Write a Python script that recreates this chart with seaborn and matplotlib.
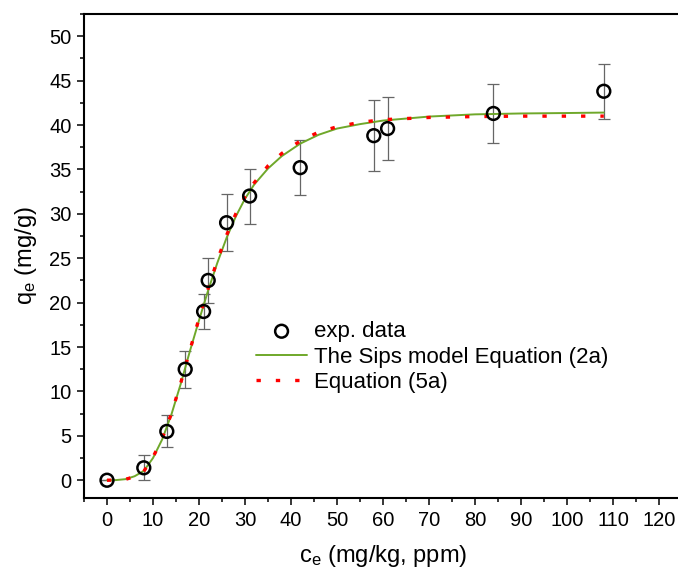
import numpy as np
import pandas as pd
import seaborn as sns
import matplotlib
matplotlib.use('Agg')
import matplotlib.pyplot as plt
from matplotlib.ticker import MultipleLocator

sns.set_style('ticks')
plt.rcParams['font.family'] = ['Liberation Sans', 'DejaVu Sans']
plt.rcParams['mathtext.fontset'] = 'custom'
plt.rcParams['mathtext.rm'] = 'Liberation Sans'
plt.rcParams['mathtext.it'] = 'Liberation Sans'
plt.rcParams['text.color'] = 'black'
plt.rcParams['axes.labelcolor'] = 'black'
plt.rcParams['xtick.color'] = 'black'
plt.rcParams['ytick.color'] = 'black'

# experimental data
ce = [0, 8, 13, 17, 21, 22, 26, 31, 42, 58, 61, 84, 108]
qe = [0, 1.4, 5.5, 12.5, 19.0, 22.5, 29.0, 32.0, 35.2, 38.8, 39.6, 41.3, 43.8]
qe_err = [0, 1.4, 1.8, 2.1, 2.0, 2.5, 3.2, 3.1, 3.1, 4.0, 3.5, 3.3, 3.1]

# Sips model curve
c_fit = [0, 2, 4, 6, 8, 10, 12, 14, 16, 18, 20, 22, 24, 26, 28, 30, 32, 35, 38, 42,
         46, 50, 55, 60, 70, 80, 90, 100, 108]
q_sips = [0, 0.02, 0.12, 0.45, 1.05, 2.5, 4.6, 7.4, 10.8, 14.5, 18.0, 21.4, 24.5, 27.3,
          29.7, 31.7, 33.3, 35.1, 36.5, 37.9, 38.9, 39.6, 40.1, 40.5, 40.95, 41.2, 41.3,
          41.35, 41.4]
# Equation (5a) curve
q_eq5a = [0, 0.02, 0.1, 0.4, 1.0, 2.6, 4.7, 7.5, 10.9, 14.6, 18.2, 21.6, 24.8, 27.6,
          30.0, 31.9, 33.5, 35.4, 36.8, 38.2, 39.2, 39.8, 40.3, 40.6, 40.85, 40.95, 41.0,
          41.0, 41.0]

df_exp = pd.DataFrame({'ce': ce, 'qe': qe})
df_fit = pd.DataFrame({'ce': c_fit, 'sips': q_sips, 'eq5a': q_eq5a})

fig = plt.figure(figsize=(6.78, 5.74), dpi=100)
ax = fig.add_axes([84/678, 76/574, (682-84)/678, 484/574])

sns.lineplot(data=df_fit, x='ce', y='sips', ax=ax, color='#6fa82a', lw=1.4,
             label='The Sips model Equation (2a)', zorder=3)
sns.lineplot(data=df_fit, x='ce', y='eq5a', ax=ax, color='#ff0000', lw=2.4,
             linestyle=(0, (1.3, 4.5)), label='Equation (5a)', zorder=4)
ax.errorbar(ce, qe, yerr=qe_err, fmt='none', ecolor='#666666', elinewidth=0.9,
            capsize=4.5, capthick=0.9, zorder=2)
sns.scatterplot(data=df_exp, x='ce', y='qe', ax=ax, marker='o', s=85,
                facecolor='none', edgecolor='black', linewidth=1.8,
                label='exp. data', zorder=5)

ax.set_xlim(-5, 125)
ax.set_ylim(-2, 52.5)
ax.xaxis.set_major_locator(MultipleLocator(10))
ax.xaxis.set_minor_locator(MultipleLocator(5))
ax.yaxis.set_major_locator(MultipleLocator(5))
ax.yaxis.set_minor_locator(MultipleLocator(2.5))
ax.tick_params(which='major', direction='out', length=5, width=1.1, labelsize=14.5,
               colors='black', pad=4)
ax.tick_params(which='minor', direction='out', length=3, width=1.1, colors='black')
for s in ['left', 'bottom', 'top', 'right']:
    ax.spines[s].set_linewidth(1.5)
    ax.spines[s].set_color('black')

ax.set_xlabel(r'c$_\mathrm{e}$ (mg/kg, ppm)', fontsize=17, labelpad=10)
ax.set_ylabel(r'q$_\mathrm{e}$ (mg/g)', fontsize=17, labelpad=7)

h, l = ax.get_legend_handles_labels()
order = [l.index('exp. data'), l.index('The Sips model Equation (2a)'), l.index('Equation (5a)')]
ax.legend([h[i] for i in order], [l[i] for i in order], loc='center left',
          bbox_to_anchor=(256/678, 1-357/574), bbox_transform=fig.transFigure,
          frameon=False, fontsize=16, borderpad=0, borderaxespad=0,
          handlelength=2.3, handletextpad=0.3, labelspacing=0.2)

fig.savefig('out.png', dpi=100)
